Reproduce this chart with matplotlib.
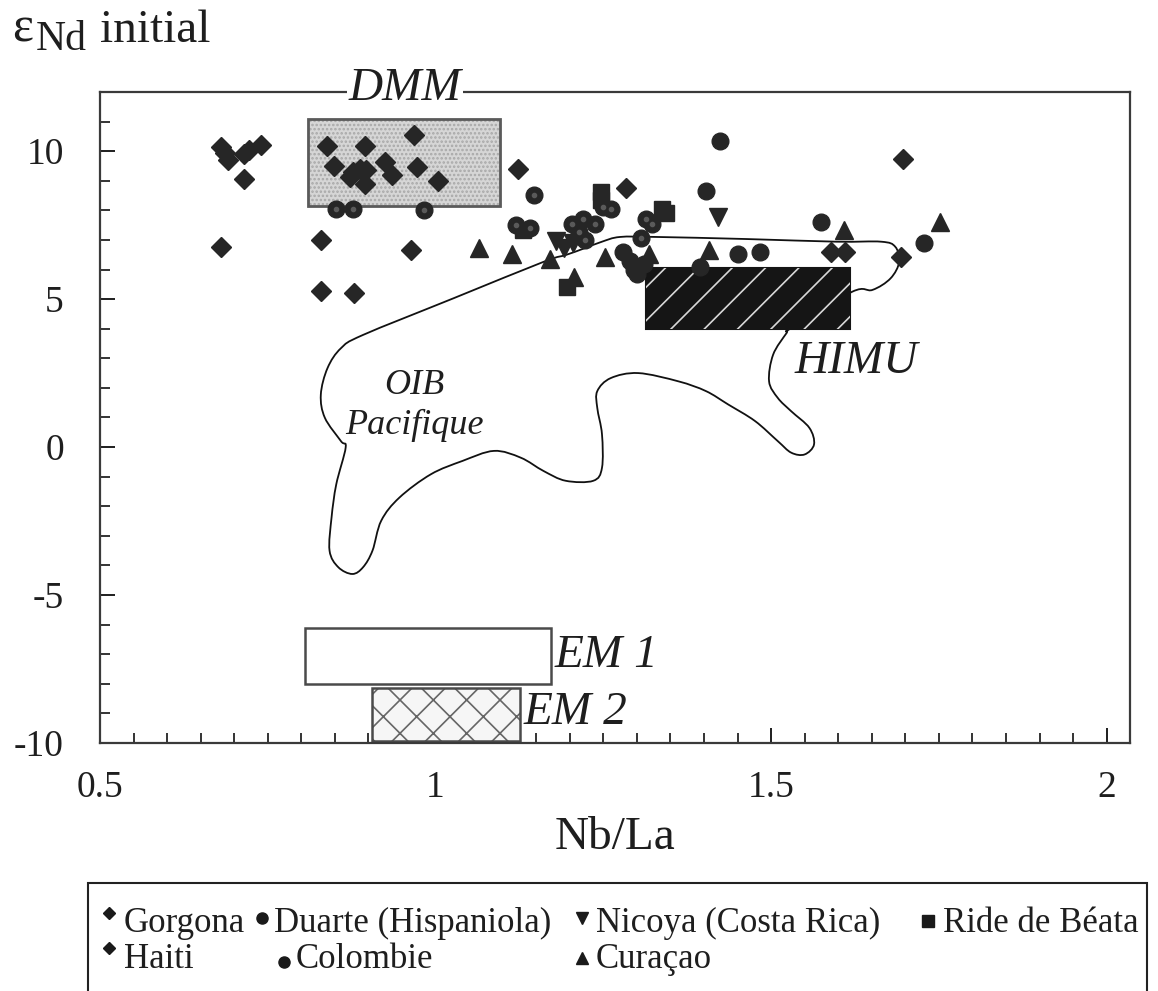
import matplotlib
matplotlib.use('Agg')
import matplotlib.pyplot as plt
from matplotlib.patches import Rectangle, PathPatch
from matplotlib.path import Path
from matplotlib.lines import Line2D
from matplotlib.ticker import MultipleLocator, FuncFormatter

# ---------------- data ----------------
gorgona_x = [0.680, 0.686, 0.690, 0.715, 0.722, 0.740, 0.715, 0.680, 0.829, 0.829, 0.878, 0.963, 1.697, 1.693]
gorgona_y = [10.15, 9.95, 9.70, 9.90, 10.05, 10.20, 9.05, 6.75, 7.01, 5.29, 5.20, 6.66, 9.72, 6.43]

haiti_x = [0.838, 0.895, 0.968, 0.849, 0.877, 0.887, 0.897, 0.872, 0.895, 0.924, 0.935, 0.972, 1.003, 1.123, 1.284, 1.590, 1.610]
haiti_y = [10.16, 10.17, 10.53, 9.49, 9.29, 9.40, 9.35, 9.12, 8.90, 9.63, 9.18, 9.46, 8.99, 9.38, 8.75, 6.60, 6.60]

duarte_x = [0.852, 0.877, 0.983, 1.146, 1.120, 1.140, 1.204, 1.219, 1.238, 1.214, 1.222, 1.249, 1.261, 1.313, 1.323, 1.306]
duarte_y = [8.06, 8.06, 8.00, 8.51, 7.50, 7.40, 7.55, 7.72, 7.55, 7.27, 7.00, 8.11, 8.06, 7.72, 7.55, 7.05]

colombie_x = [1.280, 1.290, 1.295, 1.300, 1.310, 1.424, 1.403, 1.451, 1.483, 1.394, 1.575, 1.728]
colombie_y = [6.60, 6.30, 6.00, 5.85, 6.20, 10.34, 8.64, 6.51, 6.60, 6.09, 7.59, 6.88]

nicoya_x = [1.180, 1.192, 1.205, 1.421]
nicoya_y = [6.95, 6.72, 6.90, 7.78]

curacao_x = [1.064, 1.114, 1.171, 1.253, 1.318, 1.206, 1.408, 1.608, 1.752]
curacao_y = [6.71, 6.54, 6.37, 6.43, 6.54, 5.76, 6.66, 7.33, 7.61]

beata_x = [1.246, 1.246, 1.338, 1.343, 1.196, 1.130]
beata_y = [8.62, 8.35, 8.06, 7.90, 5.42, 7.35]

# OIB Pacifique field outline (Nb/La, eNd)
oib_x = [1.161, 1.027, 0.892, 0.859, 0.839, 0.829, 0.835, 0.859, 0.866, 0.852, 0.845, 0.842,
         0.855, 0.876, 0.892, 0.906, 0.919, 0.946, 0.993, 1.040, 1.087, 1.127, 1.161, 1.194,
         1.235, 1.248, 1.248, 1.241, 1.241, 1.261, 1.302, 1.362, 1.403, 1.436, 1.476, 1.510,
         1.530, 1.550, 1.564, 1.557, 1.530, 1.510, 1.497, 1.503, 1.523, 1.530, 1.621, 1.651,
         1.678, 1.691, 1.685, 1.664, 1.597, 1.463, 1.329, 1.275, 1.248, 1.221, 1.194]
oib_y = [6.26, 5.03, 3.79, 3.34, 2.67, 1.77, 0.99, 0.20, -0.02, -1.26, -2.38, -3.50,
         -4.06, -4.29, -4.06, -3.50, -2.49, -1.71, -0.92, -0.47, -0.13, -0.36, -0.81, -1.14,
         -1.14, -0.70, 0.43, 1.32, 1.89, 2.33, 2.50, 2.22, 1.89, 1.44, 0.88, 0.20,
         -0.19, -0.25, 0.09, 0.65, 1.21, 1.66, 2.22, 3.12, 3.85, 4.02, 5.25, 5.31,
         5.70, 6.26, 6.77, 6.94, 6.94, 7.03, 7.10, 7.10, 6.94, 6.71, 6.49]

# mantle reservoirs: name, Nb/La range, eNd range
res_names = ['DMM', 'HIMU', 'EM 1', 'EM 2']
res_x0 = [0.810, 1.313, 0.805, 0.906]
res_x1 = [1.096, 1.617, 1.172, 1.126]
res_y0 = [8.15, 4.00, -8.00, -9.93]
res_y1 = [11.10, 6.06, -6.10, -8.15]

x_ticks = [0.5, 1.0, 1.5, 2.0]
y_ticks = [-10, -5, 0, 5, 10]

# ---------------- style ----------------
plt.rcParams['font.family'] = ['Liberation Serif', 'DejaVu Serif']
plt.rcParams['axes.unicode_minus'] = False
plt.rcParams['hatch.linewidth'] = 1.2

INK = '#1e1e1e'
fig = plt.figure(figsize=(11.58, 9.91), dpi=100)
ax = fig.add_axes([0.0864, 0.2503, 0.8895, 0.6569])
ax.set_xlim(0.5, 2.035)
ax.set_ylim(-10, 12)

for s in ax.spines.values():
    s.set_linewidth(1.6)
    s.set_color('#3a3a3a')

ax.xaxis.set_major_locator(plt.FixedLocator(x_ticks))
ax.xaxis.set_minor_locator(MultipleLocator(0.05))
ax.yaxis.set_major_locator(plt.FixedLocator(y_ticks))
ax.yaxis.set_minor_locator(MultipleLocator(1))
ax.xaxis.set_major_formatter(FuncFormatter(lambda v, p: '%g' % v))
ax.yaxis.set_major_formatter(FuncFormatter(lambda v, p: '%g' % v))
ax.tick_params(which='both', direction='in', top=False, right=False, color='#333333', width=1.4)
ax.tick_params(which='major', length=11, labelsize=27, colors=INK)
ax.tick_params(axis='x', which='major', pad=20)
ax.tick_params(axis='y', which='major', pad=26)
ax.tick_params(which='minor', length=7)

ax.set_xlabel('Nb/La', fontsize=34, color=INK, labelpad=8)

# ---------------- reservoir boxes ----------------
def box(i, **kw):
    return Rectangle((res_x0[i], res_y0[i]), res_x1[i] - res_x0[i], res_y1[i] - res_y0[i], **kw)

# DMM: light stippled grey
ax.add_patch(box(0, facecolor='#d6d6d6', edgecolor='#a8a8a8', hatch='....', linewidth=0, zorder=1))
ax.add_patch(box(0, facecolor='none', edgecolor='#5a5a5a', linewidth=2.0, zorder=1.1))
# HIMU: black with white diagonal stripes
ax.add_patch(box(1, facecolor='#151515', edgecolor='#151515', linewidth=1.5, zorder=2))
ax.add_patch(box(1, facecolor='none', edgecolor='#d8d8d8', hatch='/', linewidth=0, zorder=2.1))
# EM 1: empty
ax.add_patch(box(2, facecolor='white', edgecolor='#4a4a4a', linewidth=1.8, zorder=2))
# EM 2: dashed pattern
ax.add_patch(box(3, facecolor='#f6f6f6', edgecolor='#666666', hatch='x', linewidth=0, zorder=2))
ax.add_patch(box(3, facecolor='none', edgecolor='#4a4a4a', linewidth=1.8, zorder=2.1))

# reservoir labels
lab_kw = dict(fontsize=34, style='italic', color=INK)
ax.text(0.954, 11.72, res_names[0], ha='center', va='baseline', clip_on=False, zorder=6,
        bbox=dict(facecolor='white', edgecolor='none', pad=1.0), **lab_kw)
ax.text(1.535, 2.50, res_names[1], ha='left', va='baseline', **lab_kw)
ax.text(1.177, -7.05, res_names[2], ha='left', va='center', **lab_kw)
ax.text(1.131, -8.98, res_names[3], ha='left', va='center', **lab_kw)

# OIB field: smooth closed curve through the traced vertices
pts = list(zip(oib_x, oib_y))
n = len(pts)
verts = [pts[0]]
codes = [Path.MOVETO]
for k in range(n):
    p0 = pts[(k - 1) % n]
    p1 = pts[k]
    p2 = pts[(k + 1) % n]
    p3 = pts[(k + 2) % n]
    c1 = (p1[0] + (p2[0] - p0[0]) / 6.0, p1[1] + (p2[1] - p0[1]) / 6.0)
    c2 = (p2[0] - (p3[0] - p1[0]) / 6.0, p2[1] - (p3[1] - p1[1]) / 6.0)
    verts += [c1, c2, p2]
    codes += [Path.CURVE4, Path.CURVE4, Path.CURVE4]
ax.add_patch(PathPatch(Path(verts, codes), facecolor='none', edgecolor='#111111',
                       linewidth=1.3, zorder=1.5))
ax.text(0.968, 1.40, 'OIB\nPacifique', ha='center', va='center', fontsize=26,
        style='italic', color=INK, linespacing=1.25)

# ---------------- data points ----------------
mk = dict(color='#262626', linestyle='none', zorder=4)
ax.plot(gorgona_x, gorgona_y, marker='D', markersize=10, **mk)
ax.plot(haiti_x, haiti_y, marker='D', markersize=10, **mk)
ax.plot(duarte_x, duarte_y, marker='o', markersize=12, **mk)
ax.plot(duarte_x, duarte_y, marker='o', markersize=3, color='#5a5a5a', linestyle='none', zorder=4.1)
ax.plot(colombie_x, colombie_y, marker='o', markersize=12, **mk)
ax.plot(nicoya_x, nicoya_y, marker='v', markersize=13, **mk)
ax.plot(curacao_x, curacao_y, marker='^', markersize=13, **mk)
ax.plot(beata_x, beata_y, marker='s', markersize=11, **mk)

# y-axis title
fig.text(12 / 1158, 1 - 42 / 991, 'ε', fontsize=36, color=INK, va='baseline', ha='left')
fig.text(36 / 1158, 1 - 50 / 991, 'Nd', fontsize=30, color=INK, va='baseline', ha='left')
fig.text(100 / 1158, 1 - 42 / 991, 'initial', fontsize=34, color=INK, va='baseline', ha='left')

# ---------------- legend box ----------------
fig.add_artist(Rectangle((88 / 1158, -0.05), (1147 - 88) / 1158, (1 - 883 / 991) + 0.05,
                         transform=fig.transFigure, facecolor='none', edgecolor='#222222',
                         linewidth=1.5))
leg_names = ['Gorgona', 'Haiti', 'Duarte (Hispaniola)', 'Colombie', 'Nicoya (Costa Rica)', 'Curaçao', 'Ride de Béata']
leg_mark = ['D', 'D', 'o', 'o', 'v', '^', 's']
leg_msize = [6.5, 6.5, 8, 8, 9, 9, 8]
leg_mx = [109, 109, 262, 284, 582, 582, 928]
leg_my = [913, 948, 918, 962, 918, 958, 921]
leg_tx = [124, 124, 274, 296, 596, 596, 943]
leg_ty = [932, 968, 932, 968, 932, 968, 932]
for nm, m, ms, mxp, myp, txp, typ in zip(leg_names, leg_mark, leg_msize, leg_mx, leg_my, leg_tx, leg_ty):
    fig.add_artist(Line2D([mxp / 1158], [1 - myp / 991], marker=m, markersize=ms,
                          color='#1a1a1a', linestyle='none', transform=fig.transFigure))
    fig.text(txp / 1158, 1 - typ / 991, nm, fontsize=25, color=INK, ha='left', va='baseline')

fig.savefig('out.png', dpi=100)
